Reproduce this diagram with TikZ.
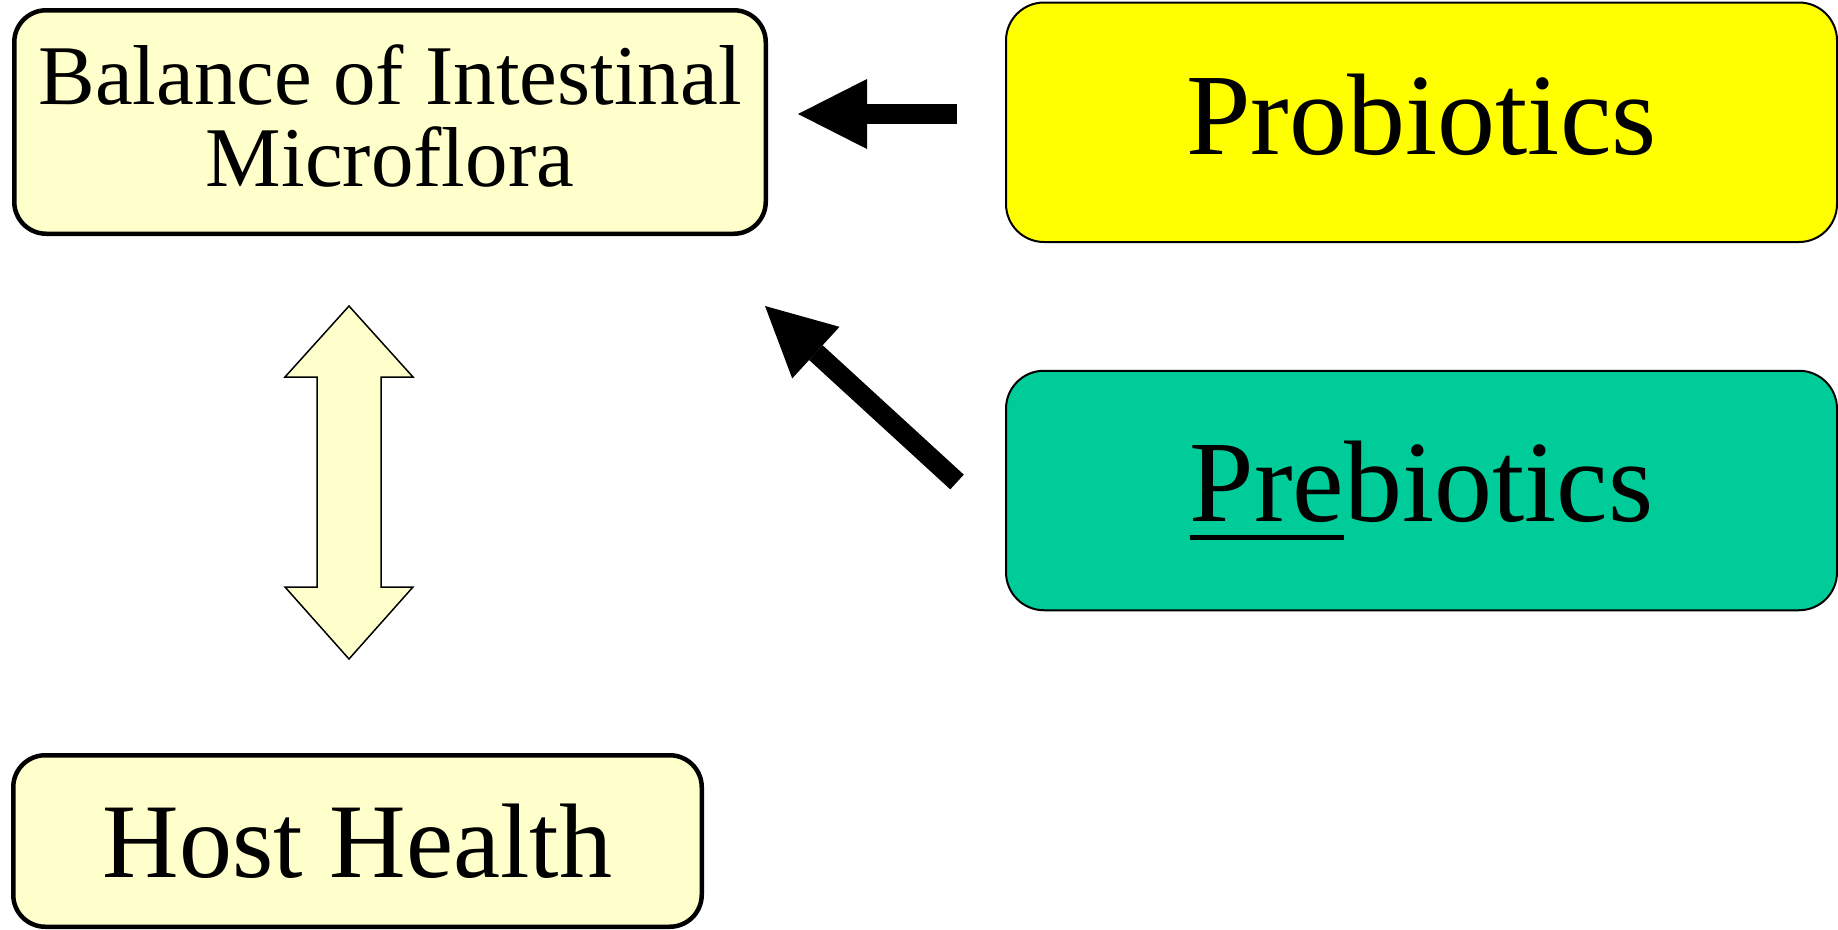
\documentclass[tikz,border=0pt]{standalone}
\usepackage{fontspec}
\setmainfont{Liberation Serif}
\usepackage{xcolor}
\usetikzlibrary{arrows.meta, positioning}

\definecolor{paleyellow}{HTML}{FFFFCC}
\definecolor{brightyellow}{HTML}{FFFF00}
\definecolor{seagreen}{HTML}{00CC99}

% thick underline under a prefix
\newcommand{\prefixline}[1]{\setbox0\hbox{#1}\rlap{\rule[-18pt]{\wd0}{5pt}}\box0}

\begin{document}
\begin{tikzpicture}[
  x=1pt, y=-1pt,
  heavybox/.style={rectangle, draw, line width=4.5pt, rounded corners=32pt, fill=paleyellow, align=center, inner sep=0pt},
  lightbox/.style={rectangle, draw, line width=2pt, rounded corners=38pt, align=center, inner sep=0pt, minimum width=831pt, minimum height=239.5pt, font=\fontsize{116}{120}\selectfont},
  bigarrow/.style={line width=20pt, -{Triangle[length=69pt, width=70pt, line width=0pt]}},
  updown/.style={draw, line width=1.5pt, fill=paleyellow, line join=miter},
]
  \useasboundingbox (0,0) rectangle (1838,929);

  \node[heavybox, minimum width=751.5pt, minimum height=223.5pt, text depth=12pt, font=\fontsize{85}{82}\selectfont] (balance) at (390,122)
    {Balance of Intestinal\\ Microflora};
  \node[heavybox, minimum width=688.5pt, minimum height=171.5pt, font=\fontsize{106}{110}\selectfont] (host) at (357.5,841)
    {Host Health};
  \node[lightbox, fill=brightyellow, text depth=16pt] (probio) at (1421.5,122.25) {Probiotics};
  \node[lightbox, fill=seagreen] (prebio) at (1421.5,490.5) {\prefixline{Pre}biotics};

  % arrows into the balance box
  \draw[bigarrow, shorten <=48pt, shorten >=30pt] (probio.west |- 0,114) -- (balance.east |- 0,114);
  \coordinate (pretail) at (957,482);
  \coordinate (pretip) at (765,306);
  \draw[bigarrow] (pretail) -- (pretip);

  % two-way arrow between balance and health
  \coordinate (dtop) at (349,306);
  \path[updown] (dtop) -- ++(64,71) -- ++(-32,0) -- ++(0,210) -- ++(32,0) -- ++(-64,72)
    -- ++(-64,-72) -- ++(32,0) -- ++(0,-210) -- ++(-32,0) -- cycle;

\end{tikzpicture}
\end{document}
